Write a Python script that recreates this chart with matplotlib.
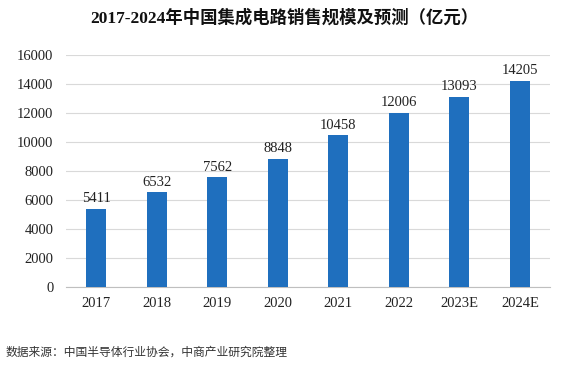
import numpy as np
import matplotlib
matplotlib.use('Agg')
import matplotlib.pyplot as plt

plt.rcParams['font.family'] = ['Liberation Serif', 'Noto Sans CJK SC']

years = ['2017', '2018', '2019', '2020', '2021', '2022', '2023E', '2024E']
sales = [5411, 6532, 7562, 8848, 10458, 12006, 13093, 14205]
yticks = [0, 2000, 4000, 6000, 8000, 10000, 12000, 14000, 16000]

fig = plt.figure(figsize=(5.69, 3.68), dpi=100, facecolor='w')
ax = fig.add_axes([0.116, 0.22, 0.851, 0.631])

x = np.arange(len(years))
bars = ax.bar(x, sales, width=0.33, color='#1F6FBE', zorder=3)
for xi, v in zip(x, sales):
    ax.text(xi, v + 250, str(v), ha='center', va='bottom', fontsize=10.5, color='#222222')

ax.set_ylim(0, 16000)
ax.set_xlim(-0.5, len(years) - 0.5)
ax.set_yticks(yticks)
ax.set_yticklabels([str(t) for t in yticks])
ax.set_xticks(x)
ax.set_xticklabels(years)
ax.tick_params(axis='both', length=0, labelsize=10.5, colors='#222222')
ax.tick_params(axis='x', pad=7)
ax.tick_params(axis='y', pad=9)
ax.grid(axis='y', color='#D9D9D9', lw=0.8, zorder=0)
for spine in ('top', 'right', 'left'):
    ax.spines[spine].set_visible(False)
ax.spines['bottom'].set_color('#BFBFBF')

fig.text(0.5, 0.952, '2017-2024年中国集成电路销售规模及预测（亿元）', ha='center', va='center',
         fontsize=12.5, fontweight='bold', color='#111111')
fig.text(0.01, 0.043, '数据来源：中国半导体行业协会，中商产业研究院整理', ha='left', va='center',
         fontsize=8.5, color='#333333')

fig.savefig('out.png', dpi=100)
